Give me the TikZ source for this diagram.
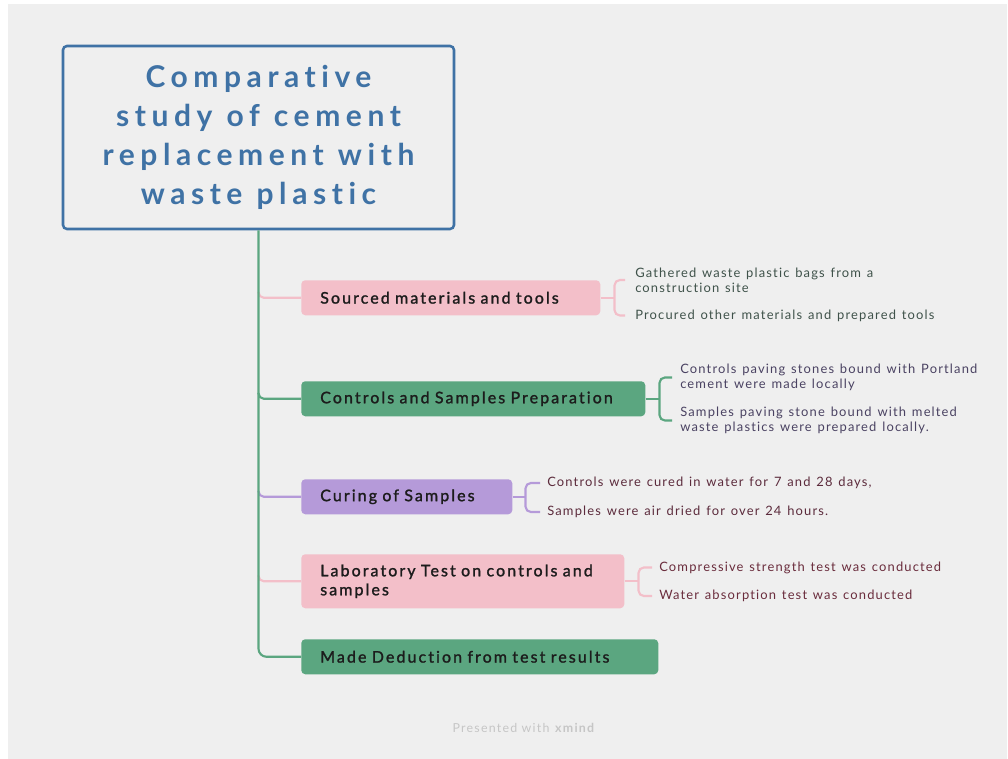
\documentclass[tikz,border=0pt]{standalone}
\usepackage{fontspec}
\setmainfont{Lato}
\newfontfamily\titlefont[LetterSpace=18.5,WordSpace=1.1,Ligatures=NoCommon]{Lato}
\newfontfamily\nodefont[LetterSpace=13,WordSpace=1.5,FakeBold=1.5,Ligatures=NoCommon]{Lato}
\newfontfamily\childfont[LetterSpace=9,WordSpace=1.3,Ligatures=NoCommon]{Lato}
\newfontfamily\footfont[LetterSpace=10]{Lato}
\usetikzlibrary{calc}
\definecolor{bggray}{HTML}{EFEFEF}
\definecolor{rootblue}{HTML}{3F72A5}
\definecolor{pinkc}{HTML}{F3BFC9}
\definecolor{greenc}{HTML}{5BA680}
\definecolor{purplec}{HTML}{B59AD9}
\definecolor{txtdark}{HTML}{1C1C1C}
\definecolor{cgreen}{HTML}{3F524A}
\definecolor{cpurple}{HTML}{4A4262}
\definecolor{cmaroon}{HTML}{5C2B3C}
\definecolor{cmaroonb}{HTML}{6A2C3C}
\definecolor{footgray}{HTML}{C6C6C6}
\tikzset{
  mainbox/.style={draw=none, rounded corners=3pt, anchor=north west, minimum height=26.25pt,
    inner xsep=14.25pt, inner ysep=0pt, align=left, font=\nodefont\fontsize{12}{14.25}\selectfont, text=txtdark},
  childtxt/.style={anchor=west, inner sep=0pt, align=left, font=\childfont\fontsize{9.7}{11.25}\selectfont},
  pinkline/.style={draw=pinkc, line width=1.6pt},
  greenline/.style={draw=greenc, line width=1.6pt},
  purpleline/.style={draw=purplec, line width=1.6pt},
  bracket/.style={rounded corners=4pt},
}
\begin{document}
\begin{tikzpicture}[x=0.75pt,y=-0.75pt]
\path[use as bounding box, fill=white] (0,0) rectangle (1008,759);
\fill[bggray] (8,4) rectangle (1007,759);

% root
\node[draw=rootblue, line width=1.9pt, fill=bggray, rounded corners=3pt,
  minimum width=293.25pt, minimum height=137.25pt, inner sep=0pt, align=center,
  text=rootblue, font=\titlefont\bfseries\fontsize{22.5}{29.25}\selectfont]
  (root) at (258.5,137.5) {Comparative\\study of cement\\replacement with\\waste plastic};

% main nodes
\node[mainbox, fill=pinkc, minimum width=224.25pt, text width=195.75pt] (n1) at (301,280) {Sourced materials and tools};
\node[mainbox, fill=greenc, minimum width=258pt, text width=229.5pt] (n2) at (301,381) {Controls and Samples Preparation};
\node[mainbox, fill=purplec, minimum width=158.25pt, text width=129.75pt] (n3) at (301,479) {Curing of Samples};
\node[mainbox, fill=pinkc, minimum width=242.25pt, minimum height=40.5pt, text width=213.75pt] (n4) at (301,554) {Laboratory Test on controls and\\samples};
\node[mainbox, fill=greenc, minimum width=267.75pt, text width=239.25pt] (n5) at (301,639) {Made Deduction from test results};

% child texts
\node[childtxt, text=cgreen] (c11) at (635,280) {Gathered waste plastic bags from a\\construction site};
\node[childtxt, text=cgreen] (c12) at (635,315.5) {Procured other materials and prepared tools};
\node[childtxt, text=cpurple] (c21) at (680,377.5) {Controls paving stones bound with Portland\\cement were made locally};
\node[childtxt, text=cpurple] (c22) at (680,420.5) {Samples paving stone bound with melted\\waste plastics were prepared locally.};
\node[childtxt, text=cmaroon] (c31) at (547,483) {Controls were cured in water for 7 and 28 days,};
\node[childtxt, text=cmaroon] (c32) at (547,512) {Samples were air dried for over 24 hours.};
\node[childtxt, text=cmaroonb] (c41) at (659,567.5) {Compressive strength test was conducted};
\node[childtxt, text=cmaroonb] (c42) at (659,596) {Water absorption test was conducted};

% branches from trunk
\coordinate (t) at (root.south);
\draw[pinkline, bracket] ($(t|-n1.west)+(0,-6)$) |- (n1.west);
\draw[greenline, bracket] ($(t|-n2.west)+(0,-6)$) |- (n2.west);
\draw[purpleline, bracket] ($(t|-n3.west)+(0,-6)$) |- (n3.west);
\draw[pinkline, bracket] ($(t|-n4.west)+(0,-6)$) |- (n4.west);
% trunk
\draw[greenline, rounded corners=6pt] (root.south) |- (n5.west);

% brackets
\draw[pinkline] (n1.east) -- ++(14,0) coordinate (b1);
\draw[pinkline, bracket] ($(c11.west)+(-10,0)$) -| (b1) |- ($(c12.west)+(-10,0)$);
\draw[greenline] (n2.east) -- ++(14,0) coordinate (b2);
\draw[greenline, bracket] ($(c21.west)+(-8,0)$) -| (b2) |- ($(c22.west)+(-8,0)$);
\draw[purpleline] (n3.east) -- ++(13,0) coordinate (b3);
\draw[purpleline, bracket] ($(c31.west)+(-7,0)$) -| (b3) |- ($(c32.west)+(-7,0)$);
\draw[pinkline] (n4.east) -- ++(14,0) coordinate (b4);
\draw[pinkline, bracket] ($(c41.west)+(-7,0)$) -| (b4) |- ($(c42.west)+(-7,0)$);

% footer
\node[text=footgray, font=\footfont\fontsize{9.3}{11}\selectfont, inner sep=0pt] (foot) at (524,728) {Presented with \textbf{xmind}};
\end{tikzpicture}
\end{document}
